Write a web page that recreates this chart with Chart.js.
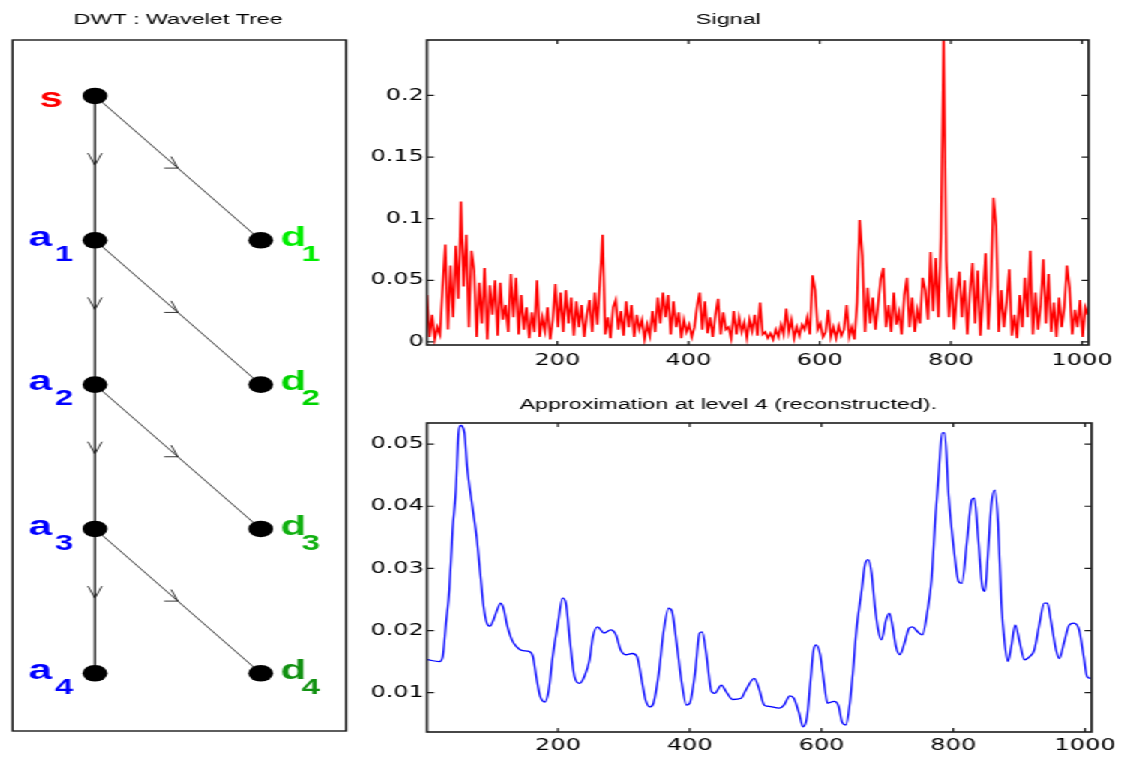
<!DOCTYPE html>
<html>
<head>
<meta charset="utf-8">
<script src="https://cdn.jsdelivr.net/npm/chart.js@4.4.1/dist/chart.umd.min.js"></script>
<style>
  html, body { margin: 0; padding: 0; background: #fff; overflow: hidden; }
  /* the reference figure is stretched sideways, so the whole stage is too */
  #stage { position: absolute; left: 0; top: 0; width: 747.33px; height: 758px; transform: scaleX(1.5); transform-origin: 0 0; }
  #stage canvas { position: absolute; }
</style>
</head>
<body>
<div id="stage">
  <canvas id="treeChart" width="240" height="758" style="left:0;top:0"></canvas>
  <canvas id="signalChart" width="508" height="375" style="left:240px;top:0"></canvas>
  <canvas id="approxChart" width="508" height="383" style="left:240px;top:375px"></canvas>
</div>
<script>
// ---- data ----
const approxNodes = ['s', 'a1', 'a2', 'a3', 'a4'];
const detailNodes = ['d1', 'd2', 'd3', 'd4'];
const detailColors = ['#00ee00', '#00d400', '#10b010', '#119111'];

const xTicks = [200, 400, 600, 800, 1000];
const signalYTicks = [0, 0.05, 0.1, 0.15, 0.2];
const approxYTicks = [0.01, 0.02, 0.03, 0.04, 0.05];

// signal read every 4 samples, starting at sample 1
const signalStart = 1;
const signalStep = 4;
const signalVals = [
  0.038, 0.004, 0.022, 0.002, 0.012, 0.006, 0.045, 0.079, 0.010, 0.062,
  0.020, 0.078, 0.035, 0.114, 0.045, 0.087, 0.012, 0.074, 0.058, 0.004,
  0.048, 0.015, 0.060, 0.002, 0.046, 0.022, 0.050, 0.005, 0.048, 0.018,
  0.030, 0.008, 0.055, 0.020, 0.052, 0.006, 0.038, 0.010, 0.028, 0.003,
  0.024, 0.008, 0.050, 0.004, 0.020, 0.009, 0.028, 0.002, 0.018, 0.047,
  0.012, 0.040, 0.008, 0.042, 0.015, 0.036, 0.005, 0.033, 0.012, 0.030,
  0.004, 0.022, 0.034, 0.008, 0.040, 0.014, 0.050, 0.087, 0.006, 0.020,
  0.003, 0.028, 0.034, 0.010, 0.025, 0.005, 0.033, 0.012, 0.030, 0.004,
  0.022, 0.010, 0.018, 0.002, 0.014, 0.005, 0.025, 0.008, 0.036, 0.015,
  0.040, 0.020, 0.038, 0.006, 0.033, 0.012, 0.024, 0.003, 0.018, 0.008,
  0.014, 0.004, 0.012, 0.029, 0.040, 0.010, 0.033, 0.007, 0.020, 0.004,
  0.022, 0.035, 0.006, 0.024, 0.010, 0.012, 0.003, 0.025, 0.006, 0.020,
  0.008, 0.016, 0.003, 0.018, 0.009, 0.022, 0.005, 0.032, 0.006, 0.008,
  0.003, 0.007, 0.002, 0.010, 0.004, 0.014, 0.006, 0.027, 0.008, 0.018,
  0.003, 0.012, 0.005, 0.014, 0.010, 0.020, 0.006, 0.054, 0.042, 0.010,
  0.015, 0.004, 0.008, 0.026, 0.004, 0.012, 0.003, 0.013, 0.005, 0.010,
  0.030, 0.004, 0.012, 0.002, 0.032, 0.099, 0.070, 0.008, 0.044, 0.015,
  0.036, 0.010, 0.030, 0.051, 0.060, 0.012, 0.030, 0.008, 0.040, 0.014,
  0.024, 0.006, 0.038, 0.052, 0.012, 0.036, 0.008, 0.026, 0.015, 0.052,
  0.042, 0.018, 0.073, 0.025, 0.068, 0.020, 0.085, 0.245, 0.066, 0.020,
  0.052, 0.010, 0.040, 0.057, 0.020, 0.050, 0.006, 0.040, 0.064, 0.015,
  0.058, 0.005, 0.038, 0.072, 0.010, 0.045, 0.117, 0.094, 0.008, 0.042,
  0.012, 0.032, 0.059, 0.005, 0.022, 0.003, 0.038, 0.012, 0.052, 0.020,
  0.074, 0.006, 0.040, 0.010, 0.030, 0.067, 0.015, 0.055, 0.008, 0.032,
  0.004, 0.036, 0.012, 0.028, 0.062, 0.044, 0.006, 0.026, 0.012, 0.034,
  0.004, 0.028, 0.022
];

// approximation at level 4: [sample, value]
const approxPoints = [
  [2, 0.0153], [20, 0.0150], [25, 0.0158], [30, 0.0212], [35, 0.0265],
  [40, 0.0362], [45, 0.0426], [49, 0.0518], [52, 0.0530], [58, 0.0518],
  [62, 0.0464], [70, 0.0400], [77, 0.0346], [82, 0.0292], [87, 0.0239],
  [92, 0.0212], [97, 0.0207], [102, 0.0217], [108, 0.0234], [113, 0.0244],
  [118, 0.0233], [122, 0.0212], [130, 0.0185], [137, 0.0174], [145, 0.0168],
  [157, 0.0166], [162, 0.0158], [167, 0.0126], [173, 0.0094], [180, 0.0085],
  [186, 0.0104], [192, 0.0158], [200, 0.0212], [207, 0.0252], [212, 0.0244],
  [218, 0.0185], [225, 0.0126], [233, 0.0115], [240, 0.0126], [248, 0.0153],
  [253, 0.0190], [260, 0.0206], [270, 0.0196], [280, 0.0201], [288, 0.0193],
  [295, 0.0169], [303, 0.0161], [313, 0.0163], [320, 0.0158], [328, 0.0115],
  [333, 0.0088], [340, 0.0077], [345, 0.0083], [353, 0.0131], [360, 0.0196],
  [368, 0.0236], [373, 0.0231], [380, 0.0180], [388, 0.0115], [395, 0.0080],
  [400, 0.0083], [408, 0.0131], [415, 0.0196], [419, 0.0198], [425, 0.0163],
  [433, 0.0102], [438, 0.0099], [448, 0.0112], [455, 0.0102], [465, 0.0089],
  [478, 0.0091], [485, 0.0104], [498, 0.0123], [505, 0.0107], [513, 0.0080],
  [520, 0.0078], [536, 0.0075], [543, 0.0080], [552, 0.0095], [558, 0.0091],
  [566, 0.0067], [572, 0.0045], [578, 0.0061], [583, 0.0115], [588, 0.0169],
  [592, 0.0177], [598, 0.0161], [604, 0.0115], [609, 0.0083], [619, 0.0086],
  [626, 0.0078], [631, 0.0053], [637, 0.0048], [643, 0.0083], [648, 0.0137],
  [653, 0.0201], [661, 0.0265], [666, 0.0306], [671, 0.0314], [676, 0.0292],
  [681, 0.0239], [686, 0.0201], [691, 0.0185], [698, 0.0217], [703, 0.0228],
  [708, 0.0206], [713, 0.0174], [719, 0.0161], [726, 0.0180], [733, 0.0204],
  [738, 0.0206], [746, 0.0198], [753, 0.0193], [761, 0.0233], [767, 0.0282],
  [773, 0.0383], [778, 0.0453], [783, 0.0518], [787, 0.0518], [793, 0.0416],
  [801, 0.0330], [808, 0.0279], [813, 0.0276], [821, 0.0346], [828, 0.0410],
  [832, 0.0413], [838, 0.0346], [844, 0.0271], [848, 0.0263], [853, 0.0330],
  [858, 0.0405], [863, 0.0426], [868, 0.0373], [873, 0.0244], [878, 0.0180],
  [883, 0.0150], [888, 0.0174], [894, 0.0209], [901, 0.0180], [908, 0.0153],
  [916, 0.0158], [923, 0.0169], [931, 0.0212], [938, 0.0244], [943, 0.0244],
  [948, 0.0217], [956, 0.0169], [961, 0.0155], [968, 0.0180], [976, 0.0209],
  [983, 0.0212], [991, 0.0201], [998, 0.0158], [1003, 0.0126], [1008, 0.0123]
];

// ---- setup ----
const S = 1.5; // horizontal stretch of the stage
const titleFont = { family: '"Liberation Sans", Arial, sans-serif', size: 15.5, weight: 'normal' };
const tickFont = { family: '"DejaVu Sans", sans-serif', size: 16 };
Chart.defaults.color = '#000';

// box with inward ticks on all four sides, like the original axes
const axisBox = {
  id: 'axisBox',
  afterDatasetsDraw(chart) {
    const { ctx, chartArea: a, scales: { x, y } } = chart;
    ctx.save();
    ctx.strokeStyle = '#1a1a1a';
    ctx.lineWidth = 1.2;
    ctx.beginPath();
    x.ticks.forEach(t => {
      const px = x.getPixelForValue(t.value);
      ctx.moveTo(px, a.bottom); ctx.lineTo(px, a.bottom - 4);
      ctx.moveTo(px, a.top); ctx.lineTo(px, a.top + 4);
    });
    y.ticks.forEach(t => {
      const py = y.getPixelForValue(t.value);
      ctx.moveTo(a.left, py); ctx.lineTo(a.left + 4.7, py);
      ctx.moveTo(a.right, py); ctx.lineTo(a.right - 4.7, py);
    });
    ctx.stroke();
    ctx.lineWidth = 1.6;
    ctx.strokeRect(a.left, a.top, a.width, a.height);
    ctx.restore();
  }
};

function plotOptions(title, titlePad, yMin, yMax, yTicks, xAxisHeight, xPad) {
  return {
    responsive: false,
    animation: false,
    layout: { padding: { left: 0, right: 16.67, top: 0, bottom: 0 } },
    plugins: {
      legend: { display: false },
      tooltip: { enabled: false },
      title: { display: true, text: title, font: titleFont, color: '#000', padding: titlePad }
    },
    scales: {
      x: {
        type: 'linear', min: 1, max: 1010,
        afterBuildTicks: s => { s.ticks = xTicks.map(v => ({ value: v })); },
        afterFit: s => { s.height = xAxisHeight; },
        grid: { display: false, drawTicks: false },
        border: { display: false },
        ticks: { font: tickFont, color: '#000', padding: xPad, maxRotation: 0, callback: v => String(v) }
      },
      y: {
        type: 'linear', min: yMin, max: yMax,
        afterBuildTicks: s => { s.ticks = yTicks.map(v => ({ value: v })); },
        afterFit: s => { s.width = 44.67; },
        grid: { display: false, drawTicks: false },
        border: { display: false },
        ticks: { font: tickFont, color: '#000', padding: 2, callback: v => String(v) }
      }
    }
  };
}

// Signal
new Chart(document.getElementById('signalChart'), {
  type: 'line',
  data: {
    datasets: [{
      data: signalVals.map((v, i) => ({ x: signalStart + i * signalStep, y: v })),
      borderColor: '#ff0000',
      borderWidth: 1.6,
      pointRadius: 0,
      tension: 0
    }]
  },
  options: plotOptions('Signal', { top: 10, bottom: 11.4 }, -0.0025, 0.245, signalYTicks, 30, 6),
  plugins: [axisBox]
});

// Approximation at level 4
new Chart(document.getElementById('approxChart'), {
  type: 'line',
  data: {
    datasets: [{
      data: approxPoints.map(p => ({ x: p[0], y: p[1] })),
      borderColor: '#0000ff',
      borderWidth: 1.3,
      pointRadius: 0,
      cubicInterpolationMode: 'monotone'
    }]
  },
  options: plotOptions('Approximation at level 4 (reconstructed).', { top: 20.7, bottom: 8.7 },
    0.00367, 0.0534, approxYTicks, 26, 4),
  plugins: [axisBox]
});

// Wavelet tree: x = column (0 approximation, 1 detail), y = level
const treeDecor = {
  id: 'treeDecor',
  afterDatasetsDraw(chart) {
    const { ctx, chartArea: a, scales: { x, y } } = chart;
    ctx.save();
    ctx.strokeStyle = '#1a1a1a';
    ctx.lineWidth = 1.4;
    ctx.strokeRect(a.left, a.top, a.width, a.height);

    // arrow heads half way along each branch
    ctx.strokeStyle = '#000';
    ctx.lineWidth = 0.8;
    detailNodes.forEach((d, k) => {
      const vx = x.getPixelForValue(0), vy = y.getPixelForValue(k + 0.5) - 3;
      ctx.beginPath();
      ctx.moveTo(vx - 7 / S, vy - 12); ctx.lineTo(vx, vy); ctx.lineTo(vx + 7 / S, vy - 12);
      ctx.stroke();
      const dx = x.getPixelForValue(0.5), dy = y.getPixelForValue(k + 0.5);
      ctx.beginPath();
      ctx.moveTo(dx - 13.7 / S, dy); ctx.lineTo(dx, dy); ctx.lineTo(dx - 6.7 / S, dy - 11.6);
      ctx.stroke();
    });

    // node names
    ctx.textBaseline = 'alphabetic';
    approxNodes.forEach((name, k) => {
      const px = x.getPixelForValue(0), py = y.getPixelForValue(k);
      ctx.fillStyle = k === 0 ? '#ff0000' : '#0000ff';
      ctx.font = 'bold 28px "Liberation Sans", Arial, sans-serif';
      ctx.textAlign = 'right';
      if (k === 0) {
        ctx.fillText(name, px - 32 / S, py + 11);
      } else {
        ctx.fillText(name[0], px - 43 / S, py + 5.7);
        ctx.font = 'bold 22px "Liberation Sans", Arial, sans-serif';
        ctx.textAlign = 'left';
        ctx.fillText(name.slice(1), px - 40 / S, py + 20.7);
      }
    });
    detailNodes.forEach((name, k) => {
      const px = x.getPixelForValue(1), py = y.getPixelForValue(k + 1);
      ctx.fillStyle = detailColors[k];
      ctx.textAlign = 'left';
      ctx.font = 'bold 28px "Liberation Sans", Arial, sans-serif';
      ctx.fillText(name[0], px + 20 / S, py + 5.7);
      ctx.font = 'bold 22px "Liberation Sans", Arial, sans-serif';
      ctx.fillText(name.slice(1), px + 41 / S, py + 20.7);
    });
    ctx.restore();
  }
};

const nodePoints = approxNodes.map((n, k) => ({ x: 0, y: k }))
  .concat(detailNodes.map((n, k) => ({ x: 1, y: k + 1 })));
const branchSets = detailNodes.map((n, k) => ({
  data: [{ x: 0, y: k }, { x: 1, y: k + 1 }],
  showLine: true, borderColor: '#111', borderWidth: 0.8, pointRadius: 0
}));

new Chart(document.getElementById('treeChart'), {
  type: 'scatter',
  data: {
    datasets: [
      { data: nodePoints, pointRadius: 8.3, pointHoverRadius: 8.3, backgroundColor: '#000', borderWidth: 0 },
      { data: approxNodes.map((n, k) => ({ x: 0, y: k })), showLine: true, borderColor: '#000', borderWidth: 1.3, pointRadius: 0 }
    ].concat(branchSets)
  },
  options: {
    responsive: false,
    animation: false,
    layout: { padding: { left: 6.67, right: 9.33, top: 0, bottom: 27 } },
    plugins: {
      legend: { display: false },
      tooltip: { enabled: false },
      title: { display: true, text: 'DWT : Wavelet Tree', font: titleFont, color: '#000', padding: { top: 10, bottom: 11.4 } }
    },
    scales: {
      x: { type: 'linear', min: -0.497, max: 1.515, display: false },
      y: { type: 'linear', min: -0.3875, max: 4.4, reverse: true, display: false }
    }
  },
  plugins: [treeDecor]
});
</script>
</body>
</html>
